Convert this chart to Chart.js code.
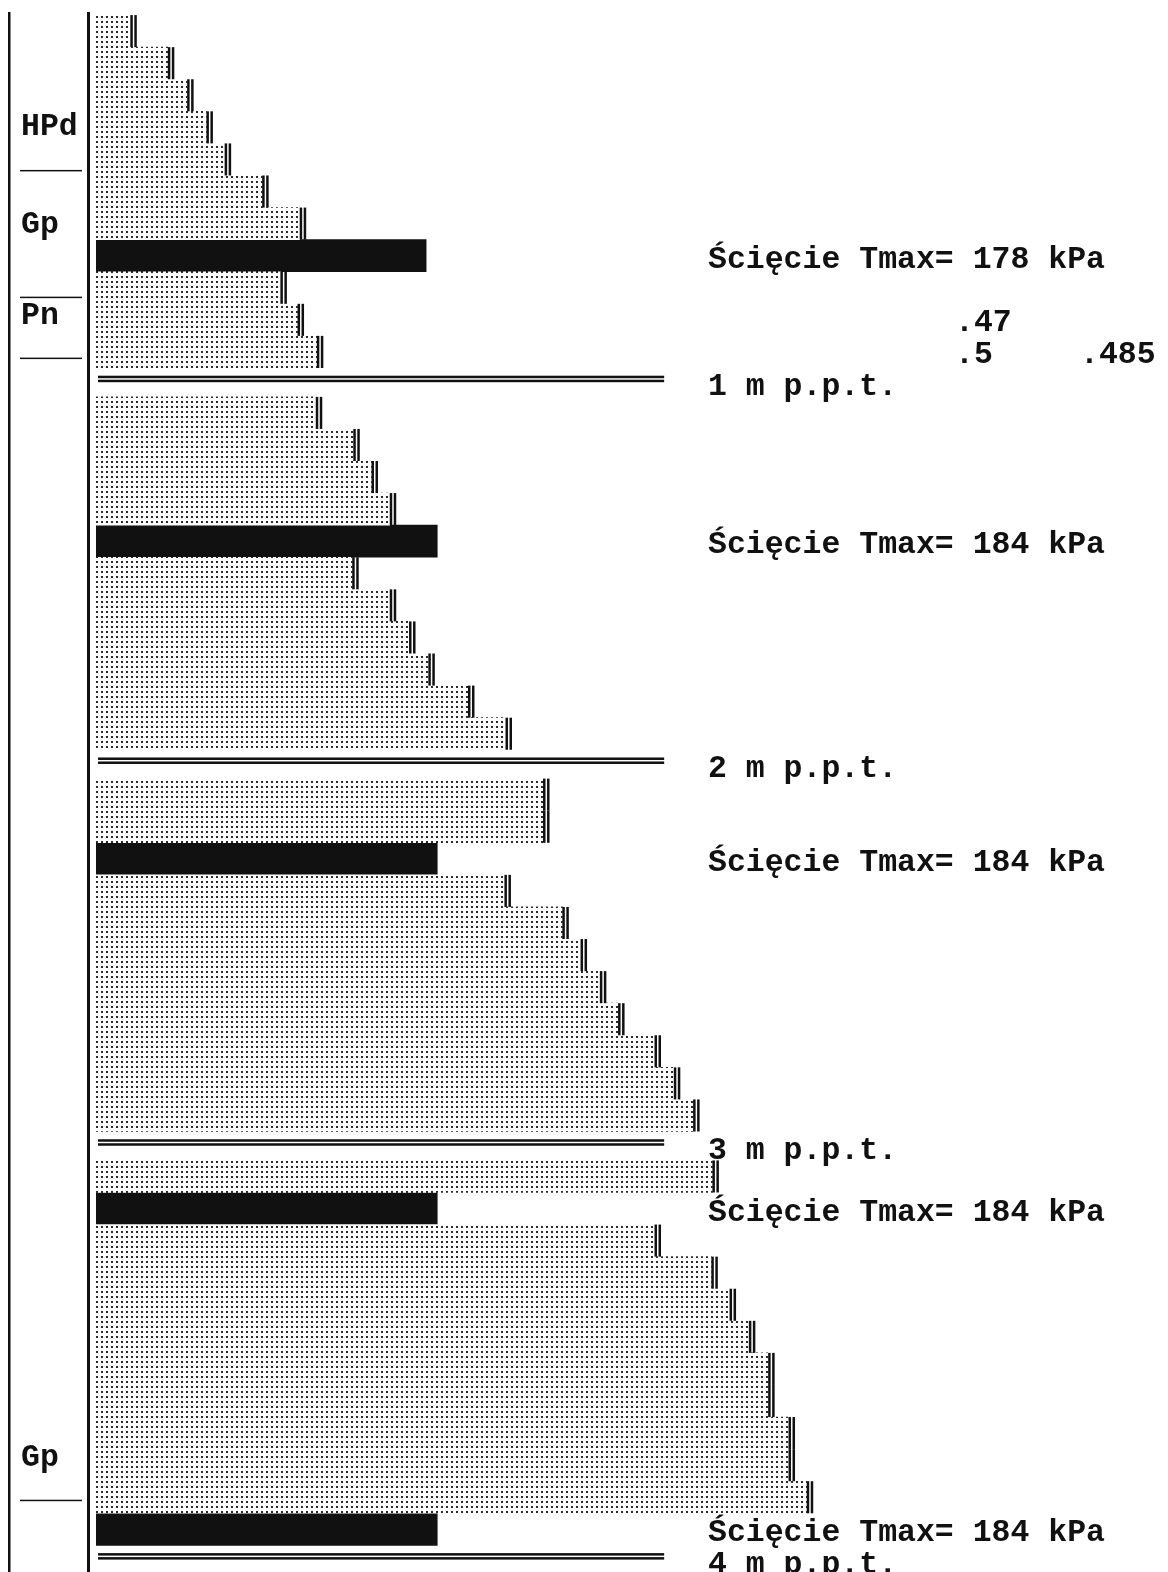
<!DOCTYPE html>
<html>
<head>
<meta charset="utf-8">
<script src="https://cdn.jsdelivr.net/npm/chart.js@4.4.1/dist/chart.umd.min.js"></script>
<style>
  html, body { margin: 0; padding: 0; background: #fff; }
</style>
</head>
<body>
<canvas id="log" width="1168" height="1572"></canvas>
<script>
// probe readings, one per 10 cm step, top to bottom within each metre
const section1 = [3.2, 6.7, 8.5, 10.3, 12.0, 15.5, 19.0, 17.2, 18.8, 20.6];
const section2 = [20.5, 24.0, 25.7, 27.4, 23.9, 27.4, 29.2, 31.0, 34.7, 38.2];
const section3 = [41.7, 41.7, 38.1, 43.5, 45.2, 47.0, 48.7, 52.1, 53.9, 55.7];
const section4 = [57.5, 52.1, 57.4, 59.1, 60.9, 62.7, 62.7, 64.6, 64.6, 66.3];

// vane shear tests: inserted after n steps of the section, value in kPa
const shearAfter = [[7], [4], [2], [1, 10]];
const shearKPa = [[178], [184], [184], [184, 184]];

const depthLabels = ['1 m p.p.t.', '2 m p.p.t.', '3 m p.p.t.', '4 m p.p.t.'];

// soil layers (depth in row units from the top of the log)
const layerNames = ['HPd', 'Gp', 'Pn', 'Gp'];
const layerMid = [3.4, 6.45, 9.3, 44.9];
const layerBottom = [4.85, 8.8, 10.7, 46.3];

// side notes in the first metre
const noteText = ['.47', '.5', '.485'];
const noteStep = [8, 9, 9];

const sections = [section1, section2, section3, section4];
const SEP_GAP = 0.9;
const SEP_LINE = 0.35;
const SEP_EXTENT = 53;
const FONT = 'bold 31.5px "Liberation Mono", monospace';

const probeRows = [];
const shearRows = [];
const separators = [];
const noteRows = [];
let start = 0;
sections.forEach((values, s) => {
  let pos = start;
  values.forEach((v, i) => {
    shearAfter[s].forEach((after, k) => {
      if (after === i) {
        shearRows.push({ x: shearKPa[s][k], y: pos + 0.5 });
        pos += 1;
      }
    });
    probeRows.push({ x: v, y: pos + 0.5 });
    if (s === 0) {
      noteStep.forEach((step, n) => {
        if (step === i) noteRows.push({ text: noteText[n], y: pos + 0.5, col: n === 2 ? 1 : 0 });
      });
    }
    pos += 1;
  });
  shearAfter[s].forEach((after, k) => {
    if (after === values.length) {
      shearRows.push({ x: shearKPa[s][k], y: pos + 0.5 });
      pos += 1;
    }
  });
  separators.push(pos + SEP_LINE);
  start = pos + SEP_GAP;
});

function dotPattern() {
  const tile = document.createElement('canvas');
  tile.width = 5;
  tile.height = 5;
  const t = tile.getContext('2d');
  t.fillStyle = '#fff';
  t.fillRect(0, 0, 5, 5);
  t.fillStyle = '#2a2a2a';
  t.fillRect(1, 1, 2, 2);
  return t.createPattern(tile, 'repeat');
}

const logDecor = {
  id: 'logDecor',
  beforeDatasetsDraw(chart) {
    const { ctx, chartArea, scales } = chart;
    const y = scales.y;
    ctx.save();
    ctx.fillStyle = '#111';
    // frame lines
    ctx.fillRect(8, 12, 2.5, 1560);
    ctx.fillRect(87, 12, 3, 1560);
    // soil layers
    ctx.font = FONT;
    ctx.textBaseline = 'middle';
    layerNames.forEach((name, i) => {
      ctx.fillText(name, 21, y.getPixelForValue(layerMid[i]) + 3);
      ctx.fillRect(20, y.getPixelForValue(layerBottom[i]) - 0.75, 62, 1.5);
    });
    // metre separators
    const x0 = chartArea.left + 2;
    const x1 = scales.x.getPixelForValue(SEP_EXTENT);
    ctx.textBaseline = 'alphabetic';
    separators.forEach((d, i) => {
      const py = y.getPixelForValue(d);
      ctx.fillRect(x0, py - 3.5, x1 - x0, 2.5);
      ctx.fillRect(x0, py + 0.5, x1 - x0, 2.5);
      ctx.fillText(depthLabels[i], 708, py + 16);
    });
    ctx.restore();
  },
  afterDatasetsDraw(chart) {
    const { ctx, scales } = chart;
    ctx.save();
    ctx.fillStyle = '#111';
    // double end marks on the probe bars
    chart.getDatasetMeta(0).data.forEach((bar) => {
      const h = bar.height;
      ctx.fillRect(bar.x, bar.y - h / 2, 2.5, h);
      ctx.fillRect(bar.x + 4, bar.y - h / 2, 2.5, h);
    });
    ctx.font = FONT;
    ctx.textBaseline = 'alphabetic';
    shearRows.forEach((row) => {
      const py = scales.y.getPixelForValue(row.y);
      ctx.fillText('Ścięcie Tmax= ' + row.x + ' kPa', 708, py + 12);
    });
    noteRows.forEach((note) => {
      const py = scales.y.getPixelForValue(note.y);
      ctx.fillText(note.text, note.col ? 1080 : 955, py + 11);
    });
    ctx.restore();
  }
};

new Chart(document.getElementById('log'), {
  type: 'bar',
  data: {
    datasets: [
      {
        label: 'Sonda',
        data: probeRows,
        xAxisID: 'x',
        backgroundColor: dotPattern(),
        borderWidth: 0,
        barPercentage: 1,
        categoryPercentage: 1,
        grouped: false
      },
      {
        label: 'Ścięcie',
        data: shearRows,
        xAxisID: 'x2',
        backgroundColor: '#111',
        borderWidth: 0,
        barPercentage: 1,
        categoryPercentage: 1,
        grouped: false
      }
    ]
  },
  options: {
    indexAxis: 'y',
    responsive: false,
    animation: false,
    layout: { padding: { left: 96, right: 0, top: 0, bottom: 0 } },
    plugins: {
      legend: { display: false },
      tooltip: { enabled: false }
    },
    scales: {
      x: { type: 'linear', display: false, min: 0, max: 100 },
      x2: { type: 'linear', display: false, min: 0, max: 578 },
      y: {
        type: 'linear',
        display: false,
        offset: false,
        reverse: true,
        min: -0.47,
        max: 48.53,
        afterBuildTicks: (scale) => {
          scale.ticks = [{ value: scale.min }];
        }
      }
    }
  },
  plugins: [logDecor]
});
</script>
</body>
</html>
